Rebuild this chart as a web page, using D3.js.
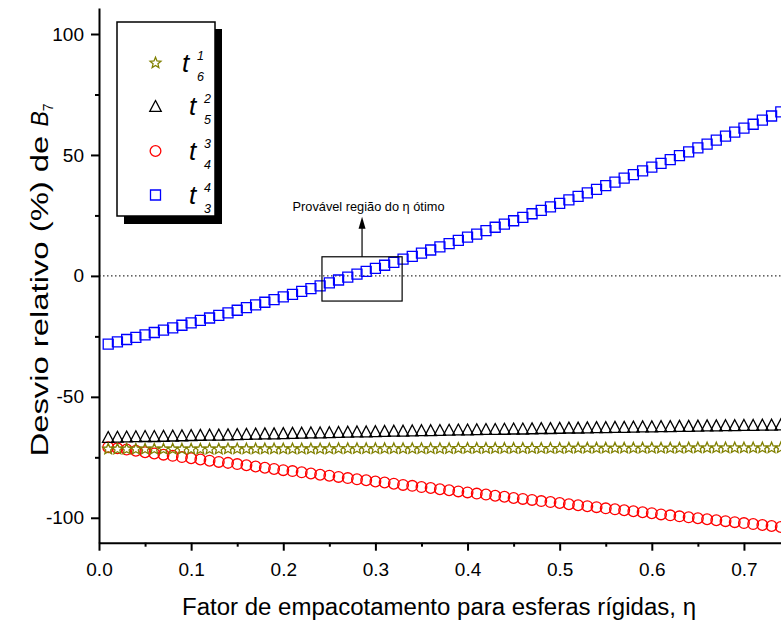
<!DOCTYPE html>
<html>
<head>
<meta charset="utf-8">
<script src="https://cdn.jsdelivr.net/npm/d3@7"></script>
<style>
  body { margin: 0; background: #fff; }
  svg { display: block; }
  text { font-family: "Liberation Sans", Arial, sans-serif; fill: #000; }
</style>
</head>
<body>
<svg id="chart" width="781" height="623"></svg>
<script>
// Packing fraction of the hard-sphere fluid
const eta = [0.01,0.02,0.03,0.04,0.05,0.06,0.07,0.08,0.09,0.10,
  0.11,0.12,0.13,0.14,0.15,0.16,0.17,0.18,0.19,0.20,
  0.21,0.22,0.23,0.24,0.25,0.26,0.27,0.28,0.29,0.30,
  0.31,0.32,0.33,0.34,0.35,0.36,0.37,0.38,0.39,0.40,
  0.41,0.42,0.43,0.44,0.45,0.46,0.47,0.48,0.49,0.50,
  0.51,0.52,0.53,0.54,0.55,0.56,0.57,0.58,0.59,0.60,
  0.61,0.62,0.63,0.64,0.65,0.66,0.67,0.68,0.69,0.70,
  0.71,0.72,0.73,0.74];

// Relative deviation (%) of B7 for each approximant
const dev16 = [-71.6,-71.6,-71.6,-71.6,-71.6,-71.6,-71.6,-71.6,-71.6,-71.6,
  -71.6,-71.6,-71.6,-71.5,-71.5,-71.5,-71.5,-71.5,-71.5,-71.5,
  -71.5,-71.5,-71.5,-71.5,-71.5,-71.4,-71.4,-71.4,-71.4,-71.4,
  -71.4,-71.4,-71.4,-71.4,-71.4,-71.4,-71.4,-71.4,-71.3,-71.3,
  -71.3,-71.3,-71.3,-71.3,-71.3,-71.3,-71.3,-71.3,-71.3,-71.3,
  -71.2,-71.2,-71.2,-71.2,-71.2,-71.2,-71.2,-71.2,-71.2,-71.2,
  -71.2,-71.2,-71.2,-71.1,-71.1,-71.1,-71.1,-71.1,-71.1,-71.1,
  -71.1,-71.1,-71.1,-71.1];

const dev25 = [-66.6,-66.5,-66.4,-66.3,-66.2,-66.2,-66.1,-66.0,-65.9,-65.8,
  -65.7,-65.6,-65.6,-65.5,-65.4,-65.3,-65.2,-65.1,-65.1,-65.0,
  -64.9,-64.8,-64.7,-64.7,-64.6,-64.5,-64.4,-64.3,-64.3,-64.2,
  -64.1,-64.0,-64.0,-63.9,-63.8,-63.8,-63.7,-63.6,-63.5,-63.5,
  -63.4,-63.3,-63.3,-63.2,-63.1,-63.1,-63.0,-62.9,-62.9,-62.8,
  -62.7,-62.7,-62.6,-62.5,-62.5,-62.4,-62.4,-62.3,-62.2,-62.2,
  -62.1,-62.1,-62.0,-62.0,-61.9,-61.8,-61.8,-61.7,-61.7,-61.6,
  -61.6,-61.5,-61.5,-61.4];

const dev34 = [-70.8,-71.3,-71.8,-72.3,-72.9,-73.4,-73.9,-74.4,-74.9,-75.4,
  -75.9,-76.4,-76.9,-77.3,-77.8,-78.3,-78.8,-79.3,-79.8,-80.3,
  -80.7,-81.2,-81.7,-82.2,-82.6,-83.1,-83.6,-84.1,-84.5,-85.0,
  -85.4,-85.9,-86.4,-86.8,-87.3,-87.7,-88.2,-88.6,-89.1,-89.5,
  -90.0,-90.4,-90.9,-91.3,-91.8,-92.2,-92.6,-93.1,-93.5,-93.9,
  -94.4,-94.8,-95.2,-95.6,-96.1,-96.5,-96.9,-97.3,-97.7,-98.1,
  -98.6,-99.0,-99.4,-99.8,-100.2,-100.6,-101.0,-101.4,-101.8,-102.2,
  -102.6,-103.0,-103.4,-103.8];

const dev43 = [-28.2,-27.3,-26.3,-25.4,-24.4,-23.4,-22.4,-21.5,-20.4,-19.4,
  -18.4,-17.4,-16.3,-15.3,-14.2,-13.1,-12.0,-10.9,-9.8,-8.7,
  -7.6,-6.4,-5.3,-4.1,-2.9,-1.7,-0.5,0.7,1.9,3.1,
  4.4,5.6,6.9,8.1,9.4,10.7,12.0,13.3,14.7,16.0,
  17.3,18.7,20.1,21.4,22.8,24.2,25.7,27.1,28.5,30.0,
  31.4,32.9,34.3,35.8,37.3,38.8,40.4,41.9,43.4,45.0,
  46.5,48.1,49.7,51.3,52.9,54.5,56.1,57.8,59.4,61.1,
  62.7,64.4,66.1,67.8];

// Axis ticks
const xTicks = [0.0,0.1,0.2,0.3,0.4,0.5,0.6,0.7];
const xMinorTicks = [0.05,0.15,0.25,0.35,0.45,0.55,0.65];
const yTicks = [-100,-50,0,50,100];
const yMinorTicks = [-75,-25,25,75];

// Legend: t with superscript / subscript indices
const legendSup = ["1","2","3","4"];
const legendSub = ["6","5","4","3"];

// Highlighted region of the optimum packing fraction
const regionEta = [0.242, 0.329];
const regionDev = [-10.4, 7.9];
const arrowTipDev = 24.5;

const svg = d3.select("#chart");

const x = d3.scaleLinear().domain([0, 0.74]).range([99, 780.8]);
const y = d3.scaleLinear().domain([-110.3, 110.75]).range([542.7, 8]);

// --- marker shapes ---
const triangleUp = {
  draw(ctx, size) {
    const w = Math.sqrt(size);
    const h = w * 0.95;
    ctx.moveTo(0, -h / 2);
    ctx.lineTo(w / 2, h / 2);
    ctx.lineTo(-w / 2, h / 2);
    ctx.closePath();
  }
};
const starShape = {
  draw(ctx, size) {
    const R = Math.sqrt(size) / 2;
    const r = R * 0.45;
    for (let i = 0; i < 10; i++) {
      const a = -Math.PI / 2 + i * Math.PI / 5;
      const rr = i % 2 === 0 ? R : r;
      const px = rr * Math.cos(a), py = rr * Math.sin(a);
      if (i === 0) ctx.moveTo(px, py); else ctx.lineTo(px, py);
    }
    ctx.closePath();
  }
};

const series = [
  { values: dev34, color: "#ff0000", type: d3.symbolCircle, size: 90 },
  { values: dev25, color: "#000000", type: triangleUp, size: 132 },
  { values: dev16, color: "#808000", type: starShape, size: 130 },
  { values: dev43, color: "#0000ff", type: d3.symbolSquare, size: 100 }
];

// zero reference line
svg.append("line")
  .attr("x1", x(0)).attr("x2", 781)
  .attr("y1", y(0)).attr("y2", y(0))
  .attr("stroke", "#000").attr("stroke-width", 1)
  .attr("stroke-dasharray", "1.5,2.5");

// data markers
series.forEach(s => {
  const sym = d3.symbol().type(s.type).size(s.size);
  svg.append("g")
    .selectAll("path")
    .data(s.values)
    .join("path")
    .attr("d", sym)
    .attr("transform", (d, i) => `translate(${x(eta[i])},${y(d)})`)
    .attr("fill", "none")
    .attr("stroke", s.color)
    .attr("stroke-width", 1.3);
});

// region box + arrow + note
svg.append("rect")
  .attr("x", x(regionEta[0])).attr("y", y(regionDev[1]))
  .attr("width", x(regionEta[1]) - x(regionEta[0]))
  .attr("height", y(regionDev[0]) - y(regionDev[1]))
  .attr("fill", "none").attr("stroke", "#000").attr("stroke-width", 1.2);

const ax = x((regionEta[0] + regionEta[1]) / 2);
svg.append("line")
  .attr("x1", ax).attr("x2", ax)
  .attr("y1", y(regionDev[1])).attr("y2", y(arrowTipDev) + 10)
  .attr("stroke", "#000").attr("stroke-width", 1.2);
svg.append("path")
  .attr("d", `M${ax},${y(arrowTipDev)} L${ax + 3.5},${y(arrowTipDev) + 12} L${ax - 3.5},${y(arrowTipDev) + 12} Z`)
  .attr("fill", "#000");

svg.append("text")
  .attr("x", 292.5).attr("y", 210.5)
  .attr("font-size", 13)
  .attr("textLength", 152).attr("lengthAdjust", "spacingAndGlyphs")
  .text("Provável região do η ótimo");

// --- axes ---
svg.append("g")
  .attr("transform", `translate(0,${y.range()[0]})`)
  .call(d3.axisBottom(x).tickValues(xTicks).tickFormat(d3.format(".1f"))
    .tickSize(8).tickSizeOuter(0).tickPadding(12));
svg.append("g")
  .attr("transform", `translate(0,${y.range()[0]})`)
  .call(d3.axisBottom(x).tickValues(xMinorTicks).tickFormat("")
    .tickSize(4).tickSizeOuter(0))
  .select(".domain").remove();

svg.append("g")
  .attr("transform", `translate(${x.range()[0]},0)`)
  .call(d3.axisLeft(y).tickValues(yTicks).tickFormat(d => String(d))
    .tickSize(8).tickSizeOuter(0).tickPadding(7));
svg.append("g")
  .attr("transform", `translate(${x.range()[0]},0)`)
  .call(d3.axisLeft(y).tickValues(yMinorTicks).tickFormat("")
    .tickSize(4).tickSizeOuter(0))
  .select(".domain").remove();

svg.selectAll(".domain, .tick line").attr("stroke", "#000").attr("stroke-width", 2);
svg.selectAll(".tick text")
  .attr("font-family", "'Liberation Sans', Arial, sans-serif")
  .attr("font-size", 19).attr("fill", "#000");

// axis titles
svg.append("text")
  .attr("x", 439).attr("y", 615)
  .attr("text-anchor", "middle")
  .attr("font-size", 23)
  .attr("textLength", 514).attr("lengthAdjust", "spacingAndGlyphs")
  .text("Fator de empacotamento para esferas rígidas, η");

const yt = svg.append("text")
  .attr("transform", "translate(48,280) rotate(-90)")
  .attr("text-anchor", "middle")
  .attr("font-size", 23);
yt.append("tspan").attr("textLength", 330).attr("lengthAdjust", "spacingAndGlyphs")
  .text("Desvio relativo (%) de ");
yt.append("tspan").attr("font-style", "italic").text("B");
yt.append("tspan").attr("font-size", 14).attr("dy", 5).text("7");

// --- legend ---
svg.append("rect").attr("x", 124).attr("y", 29).attr("width", 98).attr("height", 195).attr("fill", "#000");
svg.append("rect").attr("x", 117).attr("y", 22).attr("width", 98).attr("height", 194)
  .attr("fill", "#fff").attr("stroke", "#000").attr("stroke-width", 1.5);

const legendOrder = [2, 1, 0, 3];
const rowY = [63, 106, 151, 195];
const tX = [182, 189, 189, 189];
legendOrder.forEach((si, k) => {
  const s = series[si];
  svg.append("path")
    .attr("d", d3.symbol().type(s.type).size(s.size)())
    .attr("transform", `translate(155.5,${rowY[k]})`)
    .attr("fill", "none").attr("stroke", s.color).attr("stroke-width", 1.3);
  svg.append("text")
    .attr("x", tX[k]).attr("y", rowY[k] + 9)
    .attr("font-size", 26).attr("font-style", "italic")
    .text("t");
  svg.append("text")
    .attr("x", tX[k] + 15).attr("y", rowY[k] - 3)
    .attr("font-size", 12.5).attr("font-style", "italic")
    .text(legendSup[k]);
  svg.append("text")
    .attr("x", tX[k] + 15).attr("y", rowY[k] + 18)
    .attr("font-size", 12.5).attr("font-style", "italic")
    .text(legendSub[k]);
});
</script>
</body>
</html>
